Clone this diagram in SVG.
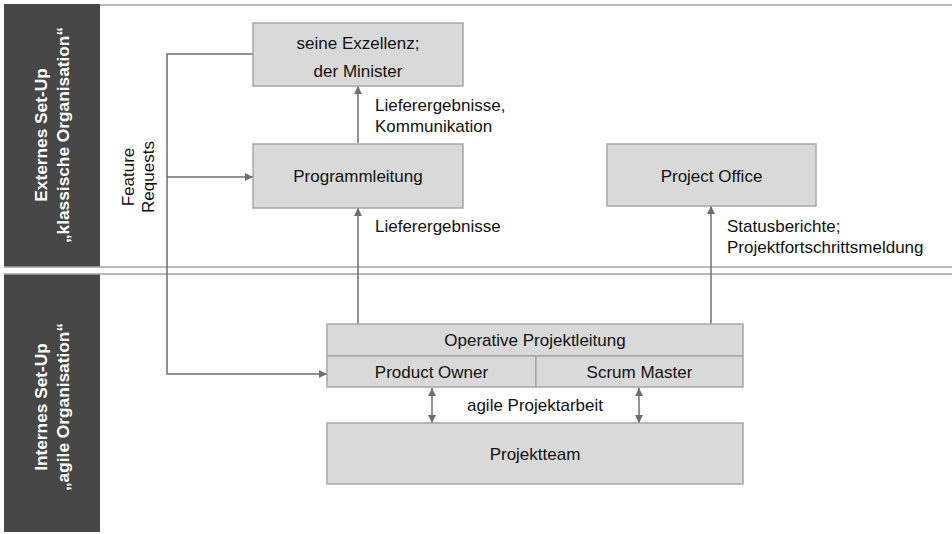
<svg xmlns="http://www.w3.org/2000/svg" width="952" height="534" viewBox="0 0 952 534">
<defs>
<style>
.side{fill:#474747}
.sep{stroke:#a0a0a0;stroke-width:1.5;fill:none}
.box{fill:#d9d9d9;stroke:#a6a6a6;stroke-width:1.5}
.con{stroke:#6e6e6e;stroke-width:1.5;fill:none}
.t{font-family:"Liberation Sans",Arial,sans-serif;font-size:17px;fill:#111}
.c{text-anchor:middle}
.st{font-family:"Liberation Sans",Arial,sans-serif;font-size:17.3px;font-weight:bold;fill:#fff;text-anchor:middle}
</style>
<marker id="ah" viewBox="0 0 10 10" refX="10" refY="5" markerWidth="8" markerHeight="8" markerUnits="userSpaceOnUse" orient="auto-start-reverse">
<path d="M0,0 L10,5 L0,10 z" fill="#6e6e6e"/>
</marker>
</defs>
<rect width="952" height="534" fill="#fff"/>

<g id="lanes">
<rect class="side" x="4" y="4" width="96" height="263"/>
<rect class="side" x="4" y="274" width="96" height="258"/>
<line class="sep" x1="100" y1="5" x2="952" y2="5"/>
<line class="sep" x1="4" y1="267" x2="952" y2="267"/>
<line class="sep" x1="4" y1="274" x2="952" y2="274"/>
<text class="st" transform="translate(47,135) rotate(-90)">Externes Set-Up</text>
<text class="st" transform="translate(69,135) rotate(-90)">„klassische Organisation“</text>
<text class="st" transform="translate(47,407) rotate(-90)">Internes Set-Up</text>
<text class="st" transform="translate(69,407) rotate(-90)">„agile Organisation“</text>
</g>

<g id="connectors">
<polyline class="con" points="253,54 167,54 167,374 327,374" marker-end="url(#ah)"/>
<line class="con" x1="167" y1="177" x2="253" y2="177" marker-end="url(#ah)"/>
<line class="con" x1="358" y1="143" x2="358" y2="86" marker-end="url(#ah)"/>
<line class="con" x1="358" y1="324" x2="358" y2="208" marker-end="url(#ah)"/>
<line class="con" x1="711" y1="324" x2="711" y2="206" marker-end="url(#ah)"/>
<line class="con" x1="432" y1="388" x2="432" y2="423" marker-start="url(#ah)" marker-end="url(#ah)"/>
<line class="con" x1="639" y1="388" x2="639" y2="423" marker-start="url(#ah)" marker-end="url(#ah)"/>
<text class="t" transform="translate(133.5,177) rotate(-90)" text-anchor="middle">Feature</text>
<text class="t" transform="translate(153.5,177) rotate(-90)" text-anchor="middle">Requests</text>
<text class="t" x="375" y="111">Lieferergebnisse,</text>
<text class="t" x="375" y="132">Kommunikation</text>
<text class="t" x="375" y="232">Lieferergebnisse</text>
<text class="t" x="727" y="232">Statusberichte;</text>
<text class="t" x="727" y="253">Projektfortschrittsmeldung</text>
<text class="t c" x="535" y="411">agile Projektarbeit</text>
</g>

<g id="minister">
<rect class="box" x="253" y="23" width="210" height="63"/>
<text class="t c" x="358" y="49">seine Exzellenz;</text>
<text class="t c" x="358" y="77">der Minister</text>
</g>

<g id="programmleitung">
<rect class="box" x="253" y="144" width="210" height="64"/>
<text class="t c" x="358" y="182">Programmleitung</text>
</g>

<g id="projectoffice">
<rect class="box" x="607" y="144" width="209" height="62"/>
<text class="t c" x="711.5" y="182">Project Office</text>
</g>

<g id="operative">
<rect class="box" x="327" y="324" width="416" height="32"/>
<text class="t c" x="535" y="346">Operative Projektleitung</text>
</g>

<g id="productowner">
<rect class="box" x="327" y="356" width="209" height="31"/>
<text class="t c" x="431.5" y="377.5">Product Owner</text>
</g>

<g id="scrummaster">
<rect class="box" x="536" y="356" width="207" height="31"/>
<text class="t c" x="639.5" y="377.5">Scrum Master</text>
</g>

<g id="projektteam">
<rect class="box" x="327" y="423" width="416" height="61"/>
<text class="t c" x="535" y="459.5">Projektteam</text>
</g>
</svg>
